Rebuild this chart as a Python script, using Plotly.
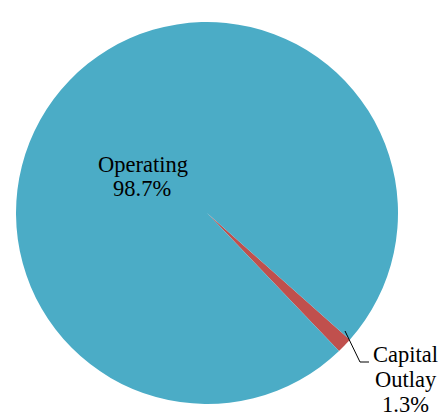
import plotly.graph_objects as go

labels = ["Capital Outlay", "Operating"]
values = [1.3, 98.7]
colors = ["#C0504D", "#4BACC6"]

# page body has an 8px margin, so the figure is drawn 8px in from the corner
OFF = 8
W, H = 448 - OFF, 418 - OFF
font = "Liberation Serif, Times New Roman, serif"


def px(x, y):
    # screen pixel -> paper coords
    return (x - OFF) / W, 1 - (y - OFF) / H


cx, cy, r = 207, 201, 191
x0, y1 = px(cx - r, cy + r)
x1, y0 = px(cx + r, cy - r)

fig = go.Figure()
fig.add_trace(go.Pie(
    labels=labels, values=values, sort=False, direction="clockwise",
    rotation=131.6, textinfo="none", hoverinfo="label+percent",
    marker=dict(colors=colors, line=dict(width=0)),
    domain=dict(x=[x0, x1], y=[y0, y1]),
    showlegend=False,
))


def line_text(text, x, baseline, size=22.5):
    ax, ay = px(x, baseline - 0.3375 * size)
    fig.add_annotation(x=ax, y=ay, xref="paper", yref="paper", text=text,
                       showarrow=False, font=dict(family=font, size=size, color="black"),
                       xanchor="center", yanchor="middle")


line_text("Operating", 142.5, 172)
line_text(f"{values[1]}%", 142, 196)
line_text("Capital", 405, 362.5)
line_text("Outlay", 406, 387.5)
line_text(f"{values[0]}%", 405, 412.5)

p0, p1, p2 = px(345, 331), px(360, 362), px(369, 362)
fig.add_shape(type="path", xref="paper", yref="paper",
              path=f"M {p0[0]},{p0[1]} L {p1[0]},{p1[1]} L {p2[0]},{p2[1]}",
              line=dict(color="black", width=1))

fig.update_layout(width=W, height=H, margin=dict(l=0, r=0, t=0, b=0),
                  paper_bgcolor="white", plot_bgcolor="white")
fig.write_html("out.html")
